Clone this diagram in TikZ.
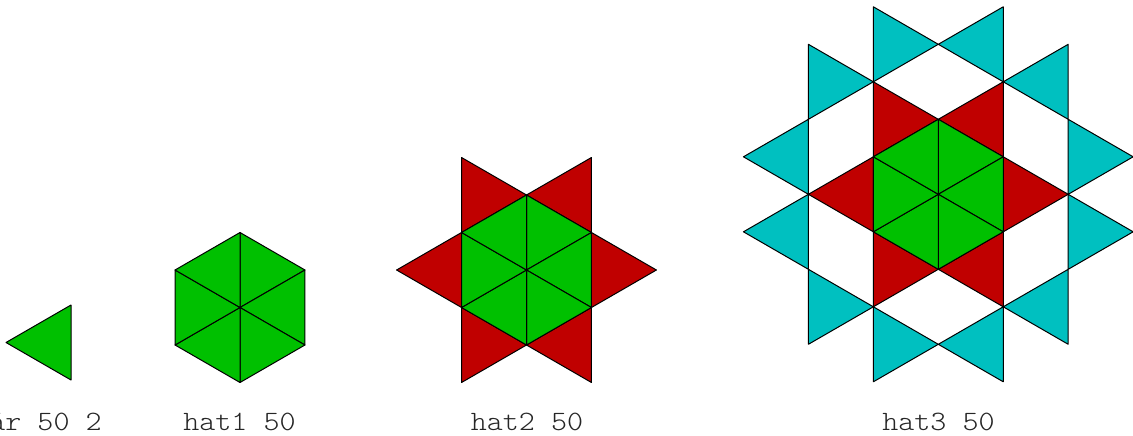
\documentclass[tikz,border=0pt]{standalone}
\usepackage{fontspec}
\newfontfamily\lblfont{lmmonolt10-regular.otf}[FakeStretch=1.09]
\definecolor{tgreen}{RGB}{0,192,0}
\definecolor{tred}{RGB}{192,0,0}
\definecolor{tcyan}{RGB}{0,192,192}
\newcommand\Tri[4]{\filldraw[tri,fill=#1] #2 -- #3 -- #4 -- cycle;}
\newcommand\HexGreen{%
  \Tri{tgreen}{(0,0)}{(0,-1)}{(1,-0.5)}
  \Tri{tgreen}{(0,0)}{(1,-0.5)}{(1,0.5)}
  \Tri{tgreen}{(0,0)}{(1,0.5)}{(0,1)}
  \Tri{tgreen}{(0,0)}{(0,1)}{(-1,0.5)}
  \Tri{tgreen}{(0,0)}{(-1,0.5)}{(-1,-0.5)}
  \Tri{tgreen}{(0,0)}{(-1,-0.5)}{(0,-1)}}
\newcommand\StarRed{%
  \Tri{tred}{(-1,-1.5)}{(-1,-0.5)}{(0,-1)}
  \Tri{tred}{(1,-1.5)}{(1,-0.5)}{(0,-1)}
  \Tri{tred}{(-2,0)}{(-1,-0.5)}{(-1,0.5)}
  \Tri{tred}{(2,0)}{(1,-0.5)}{(1,0.5)}
  \Tri{tred}{(-1,1.5)}{(-1,0.5)}{(0,1)}
  \Tri{tred}{(1,1.5)}{(1,0.5)}{(0,1)}}
\newcommand\RingCyan{%
  \Tri{tcyan}{(-1,-2.5)}{(-1,-1.5)}{(0,-2)}
  \Tri{tcyan}{(1,-2.5)}{(1,-1.5)}{(0,-2)}
  \Tri{tcyan}{(-2,-2)}{(-2,-1)}{(-1,-1.5)}
  \Tri{tcyan}{(2,-2)}{(2,-1)}{(1,-1.5)}
  \Tri{tcyan}{(-3,-0.5)}{(-2,-1)}{(-2,0)}
  \Tri{tcyan}{(-3,0.5)}{(-2,0)}{(-2,1)}
  \Tri{tcyan}{(3,-0.5)}{(2,-1)}{(2,0)}
  \Tri{tcyan}{(3,0.5)}{(2,0)}{(2,1)}
  \Tri{tcyan}{(-2,1)}{(-2,2)}{(-1,1.5)}
  \Tri{tcyan}{(2,1)}{(2,2)}{(1,1.5)}
  \Tri{tcyan}{(-1,1.5)}{(-1,2.5)}{(0,2)}
  \Tri{tcyan}{(1,1.5)}{(1,2.5)}{(0,2)}}
\begin{document}
\begin{tikzpicture}[x=1pt,y=-1pt,
  tri/.style={draw=black,line width=1pt,line join=round},
  lat/.style={x={(64.95pt,0pt)},y={(0pt,-75pt)}},
  lbl/.style={font=\lblfont\fontsize{28}{28}\selectfont,text=black!85,inner sep=0pt,anchor=base}]
\useasboundingbox (0,0) rectangle (1133,436);
% single triangle
\Tri{tgreen}{(71,305)}{(71,380)}{(6,342.5)}
% hat1
\begin{scope}[shift={(240,307.5)},lat]
  \HexGreen
\end{scope}
% hat2
\begin{scope}[shift={(526.5,270)},lat]
  \StarRed
  \HexGreen
\end{scope}
% hat3
\begin{scope}[shift={(938.3,194.3)},lat]
  \RingCyan
  \StarRed
  \HexGreen
\end{scope}
\node[lbl] (l0) at (45.5,430.7) {ár 50 2};
\node[lbl] (l1) at (239.5,430.7) {hat1 50};
\node[lbl] (l2) at (527,430.7) {hat2 50};
\node[lbl] (l3) at (938.5,430.7) {hat3 50};
\end{tikzpicture}
\end{document}
